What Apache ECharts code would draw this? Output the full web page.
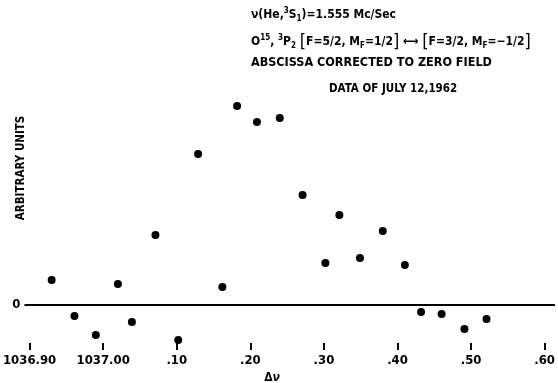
<!DOCTYPE html>
<html>
<head>
<meta charset="utf-8">
<script src="https://cdn.jsdelivr.net/npm/echarts@6/dist/echarts.min.js"></script>
<style>html,body{margin:0;padding:0;background:#fff;}#c{width:558px;height:383px;}</style>
</head>
<body>
<div id="c"></div>
<script>
// Frequency (Mc/sec) of each data point
var xValues = [1036.930, 1036.961, 1036.990, 1037.020, 1037.039, 1037.071, 1037.102, 1037.129,
  1037.162, 1037.182, 1037.209, 1037.240, 1037.271, 1037.302, 1037.321, 1037.349,
  1037.380, 1037.410, 1037.432, 1037.460, 1037.491, 1037.521];
// Signal (arbitrary units)
var yValues = [2.5, -1.1, -3.0, 2.1, -1.7, 7.0, -3.5, 15.1,
  1.8, 19.9, 18.3, 18.7, 11.0, 4.2, 9.0, 4.7,
  7.4, 4.0, -0.7, -0.9, -2.4, -1.4];
var tickValues = [1036.90, 1037.00, 1037.10, 1037.20, 1037.30, 1037.40, 1037.50, 1037.60];
var tickLabels = ['1036.90', '1037.00', '.10', '.20', '.30', '.40', '.50', '.60'];

var FONT = '"DejaVu Sans Condensed", "DejaVu Sans", sans-serif';
var points = xValues.map(function (x, i) { return [x, yValues[i]]; });

function labelFor(v) {
  var best = 0, d = Infinity;
  tickValues.forEach(function (t, i) { var dd = Math.abs(t - v); if (dd < d) { d = dd; best = i; } });
  return d < 1e-6 ? tickLabels[best] : '';
}

function mkRich(fs) {
  return {
    sup: { fontFamily: FONT, fontWeight: 'bold', fontSize: 8, lineHeight: 8, verticalAlign: 'top', fill: '#000' },
    sub: { fontFamily: FONT, fontWeight: 'bold', fontSize: 8, lineHeight: 8, verticalAlign: 'bottom', fill: '#000' },
    br: { fontFamily: FONT, fontWeight: 'normal', fontSize: 18, lineHeight: 16, fill: '#000' }
  };
}
function txt(x, y, text, fs) {
  return { type: 'text', x: x, y: y, style: { text: text, rich: mkRich(fs), textVerticalAlign: 'middle',
    fontFamily: FONT, fontWeight: 'bold', fontSize: fs, fill: '#000', lineHeight: 16 } };
}

var chart = echarts.init(document.getElementById('c'));
chart.setOption({
  animation: false,
  backgroundColor: '#fff',
  grid: { left: 24, right: 0, top: 60, bottom: 33 },
  xAxis: {
    type: 'value',
    min: 1036.893, max: 1037.614,
    axisLine: { show: false, onZero: false },
    splitLine: { show: false },
    axisTick: { show: true, inside: true, length: 7, customValues: tickValues, lineStyle: { color: '#000', width: 2 } },
    axisLabel: { customValues: tickValues, formatter: labelFor, color: '#000', fontFamily: FONT, fontWeight: 'bold', fontSize: 13, margin: 4 }
  },
  yAxis: {
    type: 'value',
    min: -4.5, max: 24.5,
    axisLine: { show: false, onZero: false },
    axisTick: { show: false },
    splitLine: { show: false },
    axisLabel: { customValues: [0], formatter: function (v) { return Math.abs(v) < 1e-9 ? '0' : ''; }, color: '#000', fontFamily: FONT, fontWeight: 'bold', fontSize: 13, margin: 4 }
  },
  series: [{
    type: 'scatter',
    data: points,
    symbol: 'circle',
    symbolSize: 8,
    itemStyle: { color: '#000', opacity: 1 },
    markLine: {
      silent: true, symbol: 'none', label: { show: false },
      lineStyle: { color: '#000', width: 2, type: 'solid', opacity: 1 },
      data: [{ yAxis: 0 }]
    }
  }],
  graphic: [
    txt(251, 15, 'ν(He,{sup|3}S{sub|1})=1.555 Mc/Sec', 12),
    txt(251, 42, 'O{sup|15}, {sup|3}P{sub|2} {br|[}F=5/2, M{sub|F}=1/2{br|]} ⟷ {br|[}F=3/2, M{sub|F}=−1/2{br|]}', 12),
    txt(251, 63, 'ABSCISSA CORRECTED TO ZERO FIELD', 12.5),
    txt(329, 89, 'DATA OF JULY 12,1962', 11.5),
    { type: 'text', x: 21, y: 168, rotation: Math.PI / 2,
      style: { text: 'ARBITRARY UNITS', fontFamily: FONT, fontWeight: 'bold', fontSize: 11.5, fill: '#000', textAlign: 'center', textVerticalAlign: 'middle' } },
    { type: 'text', x: 272, y: 378,
      style: { text: 'Δ{it|ν}', rich: { it: { fontFamily: FONT, fontStyle: 'italic', fontWeight: 'bold', fontSize: 12, fill: '#000' } }, fontFamily: FONT, fontWeight: 'bold', fontSize: 12, fill: '#000', textAlign: 'center', textVerticalAlign: 'middle' } }
  ]
});
</script>
</body>
</html>
